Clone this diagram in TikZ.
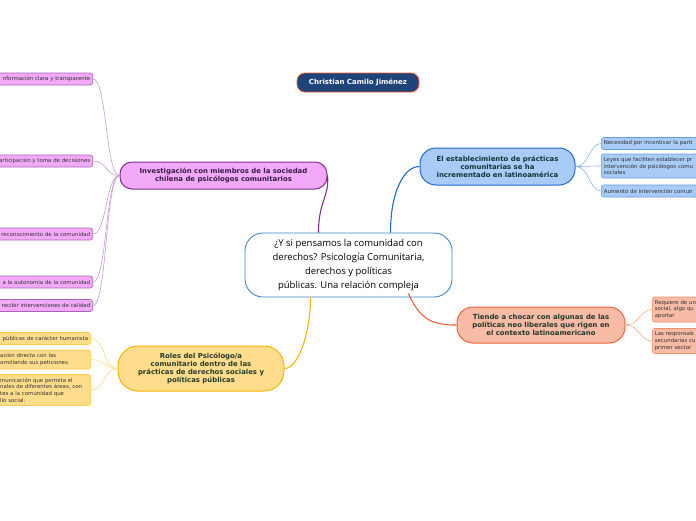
\documentclass[tikz,border=0pt]{standalone}
\usepackage{fontspec}
\setmainfont{Open Sans}
\newfontfamily\mapfont{DejaVu Sans}
\usepackage{xcolor}
\usetikzlibrary{calc}
\definecolor{centralLine}{HTML}{3F86CC}
\definecolor{authorFill}{HTML}{1E4479}
\definecolor{authorLine}{HTML}{F05A28}
\definecolor{violetFill}{HTML}{F2AAF8}
\definecolor{violetLine}{HTML}{7B2F8E}
\definecolor{violetLeaf}{HTML}{A864B8}
\definecolor{violetTwig}{HTML}{C79AD2}
\definecolor{violetText}{HTML}{3A1A46}
\definecolor{yellowFill}{HTML}{FFDD8C}
\definecolor{yellowLine}{HTML}{F5B400}
\definecolor{yellowLeaf}{HTML}{FFC94A}
\definecolor{yellowTwig}{HTML}{FFD98A}
\definecolor{yellowText}{HTML}{263A26}
\definecolor{blueFill}{HTML}{A9CBF7}
\definecolor{blueLine}{HTML}{1E6ACF}
\definecolor{blueLeaf}{HTML}{6A9DE0}
\definecolor{blueTwig}{HTML}{8AB6EA}
\definecolor{blueText}{HTML}{0F3434}
\definecolor{salmonFill}{HTML}{F8BBA5}
\definecolor{salmonLine}{HTML}{F0603A}
\definecolor{salmonLeaf}{HTML}{F08E6E}
\definecolor{salmonTwig}{HTML}{F5A88E}
\definecolor{salmonText}{HTML}{1F3A2C}
\definecolor{leafText}{HTML}{333333}
\tikzset{
  central/.style={draw=centralLine, line width=0.9pt, fill=white, rounded corners=18pt,
    minimum width=207pt, minimum height=64pt, align=center, font=\fontsize{9.5}{13.8}\selectfont},
  subTopic/.style={line width=1pt, align=center, inner sep=2pt,
    font=\mapfont\bfseries\fontsize{6.9}{8}\selectfont},
  leafBox/.style={line width=0.6pt, rounded corners=2.5pt, inner sep=2.5pt, text=leafText,
    minimum height=12pt, font=\mapfont\fontsize{5.4}{6.6}\selectfont},
  author/.style={draw=authorLine, line width=0.8pt, fill=authorFill, text=white, rounded corners=8pt,
    minimum width=122pt, minimum height=19pt, font=\mapfont\bfseries\fontsize{7}{8}\selectfont},
  branch/.style={line width=1.1pt},
  twig/.style={line width=0.6pt}
}

\begin{document}
\begin{tikzpicture}[x=1pt, y=-1pt]
  \useasboundingbox (0,0) rectangle (696,520);
  \clip (0,0) rectangle (696,520);

  % Centre and author
  \node[central] (main) at (348.5,265) {¿Y si pensamos la comunidad con\\derechos? Psicología Comunitaria,\\derechos y políticas\\públicas. Una relación compleja};
  \node[author] (author) at (358,82.5) {Christian Camilo Jiménez};

  % Main topics
  \node[subTopic, draw=violetLine, fill=violetFill, text=violetText, rounded corners=12pt,
    minimum width=207pt, minimum height=27pt] (invest) at (223.5,175.5)
    {Investigación con miembros de la sociedad\\chilena de psicólogos comunitarios};
  \node[subTopic, draw=yellowLine, fill=yellowFill, text=yellowText, rounded corners=20pt,
    minimum width=166pt, minimum height=45pt] (roles) at (201,368.5)
    {Roles del Psicólogo/a\\comunitario dentro de las\\prácticas de derechos sociales y\\políticas públicas};
  \node[subTopic, draw=blueLine, fill=blueFill, text=blueText, rounded corners=16pt,
    minimum width=155pt, minimum height=37pt] (estab) at (497.5,166.5)
    {El establecimiento de prácticas\\comunitarias se ha\\incrementado en latinoamérica};
  \node[subTopic, draw=salmonLine, fill=salmonFill, text=salmonText, rounded corners=16pt,
    minimum width=168pt, minimum height=36pt] (choque) at (541,325)
    {Tiende a chocar con algunas de las\\políticas neo liberales que rigen en\\el contexto latinoamericano};

  % Leaves of the violet topic
  \node[leafBox, anchor=east, draw=violetLeaf, fill=violetFill, text width=140pt, align=right] (inv1) at (93,79) {nformación clara y transparente};
  \node[leafBox, anchor=east, draw=violetLeaf, fill=violetFill, text width=140pt, align=right] (inv2) at (93,161) {articipación y toma de decisiones};
  \node[leafBox, anchor=east, draw=violetLeaf, fill=violetFill, text width=140pt, align=right] (inv3) at (93,234) {reconocimiento de la comunidad};
  \node[leafBox, anchor=east, draw=violetLeaf, fill=violetFill, text width=140pt, align=right] (inv4) at (93,282) {a la autonomía de la comunidad};
  \node[leafBox, anchor=east, draw=violetLeaf, fill=violetFill, text width=140pt, align=right] (inv5) at (93,305.5) {recibir intervenciones de calidad};

  % Leaves of the yellow topic
  \node[leafBox, anchor=east, draw=yellowLeaf, fill=yellowFill, text width=140pt, align=right] (rol1) at (91,338.5) {públicas de carácter humanista};
  \node[leafBox, anchor=east, draw=yellowLeaf, fill=yellowFill, text width=88pt, align=left, minimum height=19pt] (rol2) at (91,359.5) {ación directa con las\\arrollando sus peticiones.};
  \node[leafBox, anchor=east, draw=yellowLeaf, fill=yellowFill, text width=88pt, align=left, minimum height=31pt] (rol3) at (91,390) {municación que permita el\\nales de diferentes áreas, con\\tes a la comunidad que\\llo social.};

  % Leaves of the blue topic
  \node[leafBox, anchor=west, draw=blueLeaf, fill=blueFill, text width=120pt, align=left] (est1) at (601,143.5) {Necesidad por incentivar la parti};
  \node[leafBox, anchor=west, draw=blueLeaf, fill=blueFill, text width=120pt, align=left, minimum height=24pt] (est2) at (601,166) {Leyes que faciliten establecer pr\\intervención de psicólogos comu\\sociales};
  \node[leafBox, anchor=west, draw=blueLeaf, fill=blueFill, text width=120pt, align=left] (est3) at (601,191) {Aumento de intervención comun};

  % Leaves of the salmon topic
  \node[leafBox, anchor=west, draw=salmonLeaf, fill=salmonFill, text width=80pt, align=left, minimum height=25pt] (cho1) at (652,309.5) {Requiere de un\\social, algo qu\\aportar};
  \node[leafBox, anchor=west, draw=salmonLeaf, fill=salmonFill, text width=80pt, align=left, minimum height=25pt] (cho2) at (652,341) {Las responsab\\secundarias cu\\primer sector};

  % Branches from the centre
  \coordinate (mainNW) at ($(main.north)+(-30,0)$);
  \coordinate (mainNE) at ($(main.north)+(42,0)$);
  \coordinate (mainSW) at ($(main.south)+(-38,0)$);
  \coordinate (mainSE) at ($(main.south)+(60,-4)$);
  \draw[branch, violetLine] (mainNW) .. controls +(0,-32) and +(2,22) .. (invest.east);
  \draw[branch, blueLine] (mainNE) .. controls +(0,-40) and +(-16,0) .. (estab.west);
  \draw[branch, yellowLine] (mainSW) .. controls +(0,35) and +(14,0) .. (roles.east);
  \draw[branch, salmonLine] (mainSE) .. controls +(12,28) and +(-22,0) .. (choque.west);

  % Twigs to the leaves
  \foreach \n in {inv1,inv2,inv3,inv4,inv5}
    \draw[twig, violetTwig] (invest.west) .. controls +(-14,0) and +(14,0) .. (\n.east);
  \foreach \n in {rol1,rol2,rol3}
    \draw[twig, yellowTwig] (roles.west) .. controls +(-14,0) and +(14,0) .. (\n.east);
  \foreach \n in {est1,est2,est3}
    \draw[twig, blueTwig] (estab.east) .. controls +(14,0) and +(-12,0) .. (\n.west);
  \foreach \n in {cho1,cho2}
    \draw[twig, salmonTwig] (choque.east) .. controls +(14,0) and +(-12,0) .. (\n.west);
\end{tikzpicture}
\end{document}
